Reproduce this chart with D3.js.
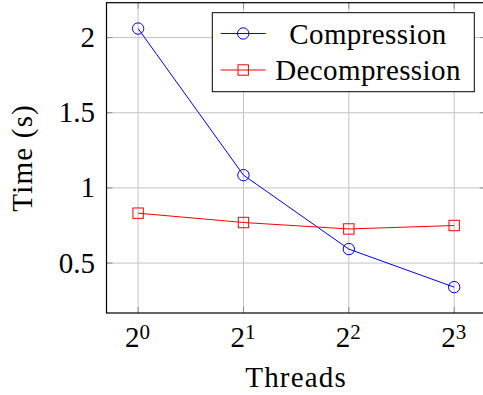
<!DOCTYPE html>
<html><head><meta charset="utf-8">
<script src="https://cdn.jsdelivr.net/npm/d3@7"></script>
<style>
svg text, svg tspan { font-family: 'Tinos', 'Liberation Serif', 'Times New Roman', 'FreeSerif', 'Noto Serif', serif !important; }
</style>
</head><body style="margin:0">
<script>
const threads = [1, 2, 4, 8];
const threadExp = ["0", "1", "2", "3"];
const compression = [2.06, 1.085, 0.593, 0.34];
const decompression = [0.832, 0.77, 0.727, 0.75];
const yTicks = [0.5, 1, 1.5, 2];
const yTickLabels = ["0.5", "1", "1.5", "2"];
const seriesNames = ["Compression", "Decompression"];

const FONT = "'Tinos', 'Liberation Serif', 'Times New Roman', 'FreeSerif', serif";
const FS = 29;
const W = 483, H = 395;
const L = 106.5, R = 485.8, T = 2.7, B = 313;
const svg = d3.select("body").append("svg").attr("width", W).attr("height", H)
  .style("display", "block").attr("font-family", FONT);
const txt = (sel) => sel.append("text").attr("font-family", FONT)
  .attr("font-size", FS).attr("fill", "#000");

const x = d3.scaleLog().base(2).domain([Math.pow(2, -0.3), Math.pow(2, 3.3)]).range([L, R]);
const y = d3.scaleLinear().domain([0.168, 2.232]).range([B, T]);

// grid
const grid = svg.append("g").attr("stroke", "#c4c4c4").attr("stroke-width", 1);
threads.forEach(t => grid.append("line").attr("x1", x(t)).attr("x2", x(t)).attr("y1", T).attr("y2", B));
yTicks.forEach(v => grid.append("line").attr("x1", L).attr("x2", R).attr("y1", y(v)).attr("y2", y(v)));

// tick marks (inside, both sides)
const tk = svg.append("g").attr("stroke", "#8a8a8a").attr("stroke-width", 1);
const tl = 6;
threads.forEach(t => {
  tk.append("line").attr("x1", x(t)).attr("x2", x(t)).attr("y1", B).attr("y2", B - tl);
  tk.append("line").attr("x1", x(t)).attr("x2", x(t)).attr("y1", T).attr("y2", T + tl);
});
yTicks.forEach(v => {
  tk.append("line").attr("x1", L).attr("x2", L + tl).attr("y1", y(v)).attr("y2", y(v));
  tk.append("line").attr("x1", R).attr("x2", R - tl).attr("y1", y(v)).attr("y2", y(v));
});

// frame
svg.append("rect").attr("x", L).attr("y", T).attr("width", R - L).attr("height", B - T)
  .attr("fill", "none").attr("stroke", "#000").attr("stroke-width", 1.2);

// y tick labels
yTicks.forEach((v, i) => {
  txt(svg).attr("x", 95).attr("y", y(v) + 9.5).attr("text-anchor", "end").text(yTickLabels[i]);
});
// x tick labels
threads.forEach((t, i) => {
  const tx = txt(svg).attr("x", x(t) - 13).attr("y", 346.7);
  tx.append("tspan").text("2");
  tx.append("tspan").attr("dy", -8).attr("font-size", 21).text(threadExp[i]);
});

// axis labels
txt(svg).attr("x", (L + R) / 2).attr("y", 387).attr("text-anchor", "middle")
  .attr("letter-spacing", 1.2).text("Threads");
txt(svg).attr("transform", `translate(32,${(T + B) / 2}) rotate(-90)`)
  .attr("text-anchor", "middle").attr("letter-spacing", 1.2).text("Time (s)");

// series
const line = d3.line().x((d, i) => x(threads[i])).y(d => y(d));
svg.append("path").datum(compression).attr("d", line).attr("fill", "none").attr("stroke", "#0000ff").attr("stroke-width", 1);
svg.append("path").datum(decompression).attr("d", line).attr("fill", "none").attr("stroke", "#ff0000").attr("stroke-width", 1);
svg.selectAll(".c").data(compression).join("circle").attr("cx", (d, i) => x(threads[i])).attr("cy", d => y(d))
  .attr("r", 5.7).attr("fill", "none").attr("stroke", "#0000ff").attr("stroke-width", 1);
svg.selectAll(".s").data(decompression).join("rect").attr("x", (d, i) => x(threads[i]) - 5.2).attr("y", d => y(d) - 5.2)
  .attr("width", 10.4).attr("height", 10.4).attr("fill", "none").attr("stroke", "#ff0000").attr("stroke-width", 1);

// legend
const lg = svg.append("g");
lg.append("rect").attr("x", 212.3).attr("y", 12.7).attr("width", 262).attr("height", 79)
  .attr("fill", "#fff").attr("stroke", "#000").attr("stroke-width", 1);
const colors = ["#0000ff", "#ff0000"];
const rowsY = [33.5, 70];
seriesNames.forEach((n, i) => {
  const cy = rowsY[i];
  lg.append("line").attr("x1", 220.7).attr("x2", 265.7).attr("y1", cy).attr("y2", cy).attr("stroke", colors[i]).attr("stroke-width", 1);
  if (i === 0) lg.append("circle").attr("cx", 243.2).attr("cy", cy).attr("r", 5.7).attr("fill", "none").attr("stroke", colors[i]);
  else lg.append("rect").attr("x", 238).attr("y", cy - 5.2).attr("width", 10.4).attr("height", 10.4).attr("fill", "none").attr("stroke", colors[i]);
  txt(lg).attr("x", 368).attr("y", cy + 10).attr("text-anchor", "middle")
    .attr("letter-spacing", 0.4).text(n);
});
</script>
</body></html>
